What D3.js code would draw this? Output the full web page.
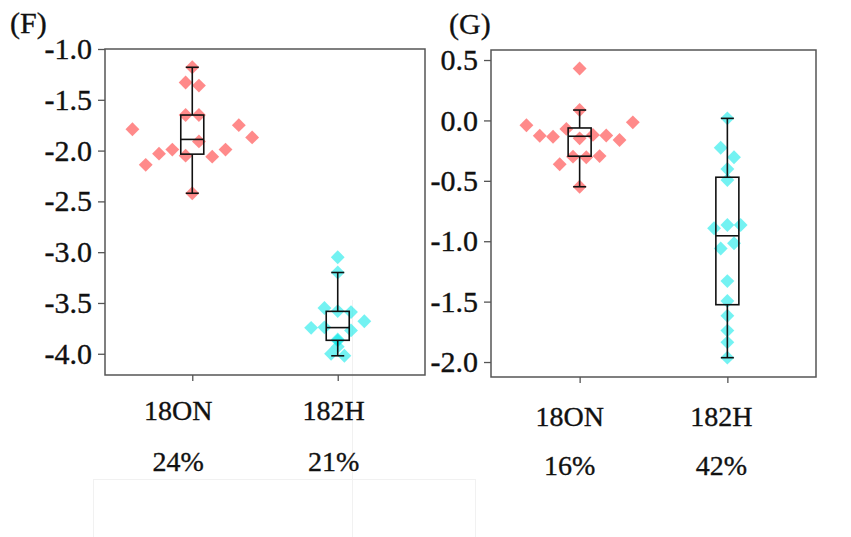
<!DOCTYPE html>
<html>
<head>
<meta charset="utf-8">
<script src="https://cdn.jsdelivr.net/npm/d3@7"></script>
<style>
  html, body { margin: 0; padding: 0; background: #fff; }
  svg { display: block; }
  text { font-family: "Liberation Serif", "Times New Roman", serif; fill: #111; stroke: #111; stroke-width: 0.35px; }
</style>
</head>
<body>
<svg id="chart" width="851" height="537"></svg>
<script>
// Groups shown on the x axis
const categories = ["18ON", "182H"];

// Percentages printed under each group
const percentF = ["24%", "21%"];
const percentG = ["16%", "42%"];

// Tick values of the two y axes
const ticksF = [-1.0, -1.5, -2.0, -2.5, -3.0, -3.5, -4.0];
const ticksG = [0.5, 0.0, -0.5, -1.0, -1.5, -2.0];

// Observations, grouped into swarm rows (each inner array shares one row)
const f18ON = [
  [-1.18],
  [-1.33, -1.36],
  [-1.65, -1.65],
  [-1.79, -2.14, -2.03, -1.99, -2.05, -1.91, -2.06, -1.99, -1.75, -1.87],
  [-2.42]
];
const f182H = [
  [-3.05],
  [-3.20],
  [-3.55, -3.58, -3.59],
  [-3.745, -3.74, -3.86, -3.77, -3.68],
  [-3.87],
  [-3.93],
  [-4.00, -4.02]
];
const g18ON = [
  [0.43],
  [0.086],
  [-0.04, -0.127, -0.135, -0.07, -0.148, -0.12, -0.125, -0.162, -0.016],
  [-0.363, -0.30, -0.305, -0.295],
  [-0.549]
];
const g182H = [
  [0.017],
  [-0.226, -0.305],
  [-0.402],
  [-0.493],
  [-0.893, -0.866, -0.866],
  [-1.06, -1.017],
  [-1.33],
  [-1.495],
  [-1.617],
  [-1.74],
  [-1.837],
  [-1.964]
];

const colors = { "18ON": "#ff2a2a", "182H": "#00e8e8" };

const svg = d3.select("#chart");
svg.append("rect").attr("width", 851).attr("height", 537).attr("fill", "#fff");

// faint seams of the composed figure
const seams = svg.append("g").attr("stroke", "#f1f1f1").attr("stroke-width", 1);
seams.append("line").attr("x1", 93).attr("x2", 475).attr("y1", 479.5).attr("y2", 479.5);
seams.append("line").attr("x1", 93.5).attr("x2", 93.5).attr("y1", 479).attr("y2", 537);
seams.append("line").attr("x1", 352.5).attr("x2", 352.5).attr("y1", 300).attr("y2", 537);
seams.append("line").attr("x1", 475.5).attr("x2", 475.5).attr("y1", 479).attr("y2", 537);

function stats(values) {
  const v = values.slice().sort(d3.ascending);
  const q1 = d3.quantile(v, 0.25), med = d3.quantile(v, 0.5), q3 = d3.quantile(v, 0.75);
  const iqr = q3 - q1;
  const lo = d3.min(v.filter(d => d >= q1 - 1.5 * iqr));
  const hi = d3.max(v.filter(d => d <= q3 + 1.5 * iqr));
  return { q1, med, q3, lo, hi };
}

function panel(opt) {
  const g = svg.append("g");
  const x = d3.scalePoint().domain(categories).range([opt.left, opt.right]).padding(0.6);
  const y = d3.scaleLinear().domain(opt.domain).range([opt.bottom, opt.top]);

  const step = 13.3;
  const diamond = d3.symbol().type(d3.symbolSquare).size(96);

  opt.series.forEach((rows, ci) => {
    const cat = categories[ci];
    const pts = [];
    rows.forEach(row => {
      row.forEach((v, i) => pts.push({ v, off: (i - (row.length - 1) / 2) * step }));
    });
    g.append("g").selectAll("path").data(pts).join("path")
      .attr("d", diamond)
      .attr("transform", d => `translate(${x(cat) + d.off},${y(d.v)}) rotate(45)`)
      .attr("fill", colors[cat])
      .attr("fill-opacity", 0.55);

    const s = stats(rows.flat());
    const cx = x(cat), bw = 23, cw = 13;
    const bx = g.append("g").attr("stroke", "#111").attr("stroke-width", 1.6).attr("fill", "none");
    bx.append("line").attr("x1", cx).attr("x2", cx).attr("y1", y(s.hi)).attr("y2", y(s.q3));
    bx.append("line").attr("x1", cx).attr("x2", cx).attr("y1", y(s.q1)).attr("y2", y(s.lo));
    bx.append("line").attr("x1", cx - cw / 2).attr("x2", cx + cw / 2).attr("y1", y(s.hi)).attr("y2", y(s.hi));
    bx.append("line").attr("x1", cx - cw / 2).attr("x2", cx + cw / 2).attr("y1", y(s.lo)).attr("y2", y(s.lo));
    bx.append("rect").attr("x", cx - bw / 2).attr("width", bw)
      .attr("y", y(s.q3)).attr("height", y(s.q1) - y(s.q3));
    bx.append("line").attr("x1", cx - bw / 2).attr("x2", cx + bw / 2).attr("y1", y(s.med)).attr("y2", y(s.med));
  });

  // frame
  g.append("rect").attr("x", opt.left).attr("y", opt.top)
    .attr("width", opt.right - opt.left).attr("height", opt.bottom - opt.top)
    .attr("fill", "none").attr("stroke", "#555").attr("stroke-width", 1.5);

  // y axis
  const ya = g.append("g").attr("transform", `translate(${opt.left},0)`)
    .call(d3.axisLeft(y).tickValues(opt.ticks).tickFormat(d => d.toFixed(1)).tickSize(7).tickPadding(6));
  ya.select(".domain").remove();
  ya.selectAll(".tick line").attr("stroke", "#555").attr("stroke-width", 1.3);
  ya.selectAll(".tick text").attr("font-size", 30).attr("font-family", "Liberation Serif").attr("fill", "#111");

  // x axis ticks
  const xa = g.append("g").attr("transform", `translate(0,${opt.bottom})`)
    .call(d3.axisBottom(x).tickSize(6).tickFormat(""));
  xa.select(".domain").remove();
  xa.selectAll(".tick line").attr("stroke", "#555").attr("stroke-width", 1.3);

  // group labels and percentages
  categories.forEach((c, i) => {
    g.append("text").attr("x", x(c) + opt.dx[i]).attr("y", opt.labelY)
      .attr("text-anchor", "middle").attr("font-size", 28).text(c);
    g.append("text").attr("x", x(c) + opt.dx[i]).attr("y", opt.pctY)
      .attr("text-anchor", "middle").attr("font-size", 28).text(opt.pct[i]);
  });

  g.append("text").attr("x", opt.tagX).attr("y", opt.tagY).attr("font-size", 30).text(opt.tag);
}

panel({
  left: 105, right: 425, top: 49, bottom: 375,
  domain: [-4.209, -1.0], ticks: ticksF,
  series: [f18ON, f182H], pct: percentF,
  dx: [-14, -4], labelY: 420, pctY: 471,
  tag: "(F)", tagX: 10, tagY: 33
});

panel({
  left: 491, right: 816, top: 50, bottom: 377,
  domain: [-2.124, 0.583], ticks: ticksG,
  series: [g18ON, g182H], pct: percentG,
  dx: [-10, -6], labelY: 426, pctY: 475,
  tag: "(G)", tagX: 449, tagY: 34
});
</script>
</body>
</html>
